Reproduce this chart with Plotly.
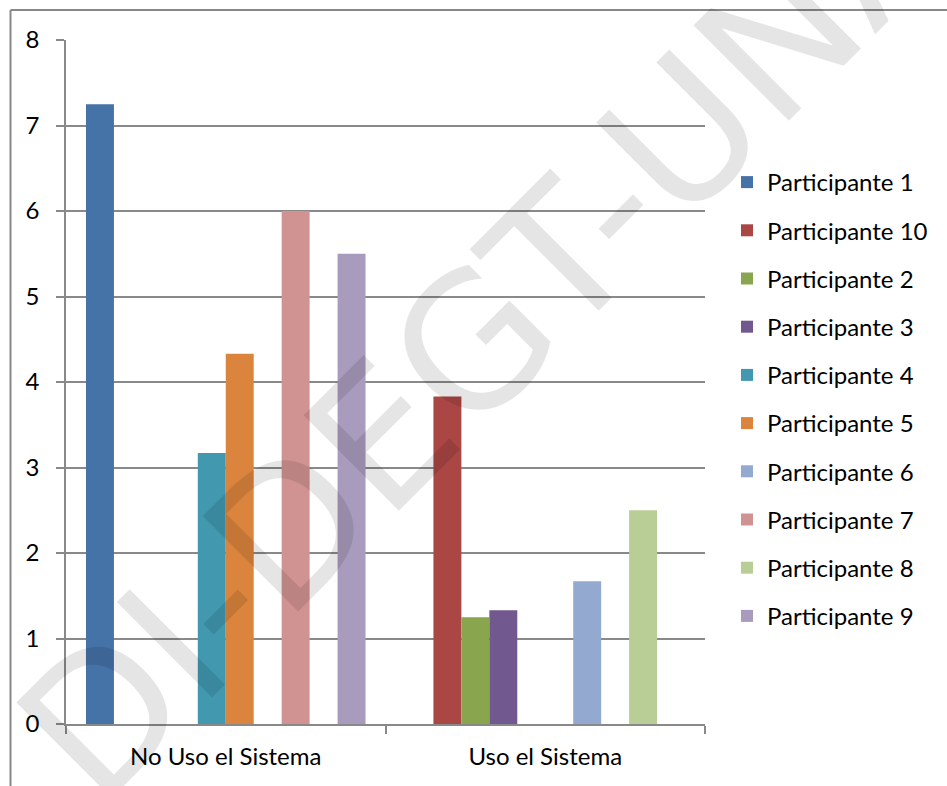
import plotly.graph_objects as go

categories = ["No Uso el Sistema", "Uso el Sistema"]
series_names = ["Participante 1", "Participante 10", "Participante 2", "Participante 3",
                "Participante 4", "Participante 5", "Participante 6", "Participante 7",
                "Participante 8", "Participante 9"]
p1 = [7.25, 0]
p10 = [0, 3.83]
p2 = [0, 1.25]
p3 = [0, 1.33]
p4 = [3.17, 0]
p5 = [4.33, 0]
p6 = [0, 1.67]
p7 = [6.0, 0]
p8 = [0, 2.5]
p9 = [5.5, 0]
series_values = [p1, p10, p2, p3, p4, p5, p6, p7, p8, p9]
colors = ["#4572A7", "#AA4643", "#89A54E", "#71588F", "#4198AF",
          "#DB843D", "#93A9CF", "#D19392", "#B9CD96", "#A99BBD"]
y_ticks = [0, 1, 2, 3, 4, 5, 6, 7, 8]

W, H = 947, 786
L, R, T, B = 66, 705, 40, 724

fig = go.Figure()
for name, vals, col in zip(series_names, series_values, colors):
    fig.add_trace(go.Bar(x=categories, y=vals, name=name, marker_color=col,
                         marker_line_width=0, legendgroup=name))

def px_x(px):
    return (px - L) / (R - L)

def px_y(py):
    return (B - py) / (B - T)

grid = "#898989"
fig.update_layout(
    width=W, height=H,
    margin=dict(l=L, r=W - R, t=T, b=H - B, pad=0),
    paper_bgcolor="white", plot_bgcolor="white",
    barmode="group", bargap=0.125, bargroupgap=0,
    font=dict(family="Lato", size=24, color="#000000"),
    legend=dict(x=px_x(727), y=px_y(160), xanchor="left", yanchor="top",
                font=dict(size=24), tracegroupgap=14, bgcolor="rgba(0,0,0,0)"),
    xaxis=dict(type="category", tickson="boundaries", ticks="outside", ticklen=8,
               tickcolor=grid, tickwidth=1.5, showline=True, linecolor=grid, linewidth=1.5,
               showgrid=False, ticklabelstandoff=10),
    yaxis=dict(range=[0, 8], tickvals=y_ticks, ticks="outside", ticklen=8,
               tickcolor=grid, tickwidth=1.5, showline=True, linecolor=grid, linewidth=1.5,
               showgrid=True, gridcolor=grid, gridwidth=1.5, zeroline=False,
               ticklabelstandoff=12),
    showlegend=True,
)

# chart-area frame
fig.add_shape(type="line", xref="paper", yref="paper", x0=px_x(10.5), x1=px_x(1000),
              y0=px_y(10), y1=px_y(10), line=dict(color="#888888", width=2))
fig.add_shape(type="line", xref="paper", yref="paper", x0=px_x(10.5), x1=px_x(10.5),
              y0=px_y(10), y1=px_y(900), line=dict(color="#888888", width=2))

# watermark
fig.add_annotation(text="DI-DEGT-UNAM", xref="paper", yref="paper",
                   x=px_x(542), y=px_y(277), xanchor="center", yanchor="middle",
                   showarrow=False, textangle=-45,
                   font=dict(family="DejaVu Sans", size=185, color="rgba(0,0,0,0.1)"))

fig.write_html("out.html")
